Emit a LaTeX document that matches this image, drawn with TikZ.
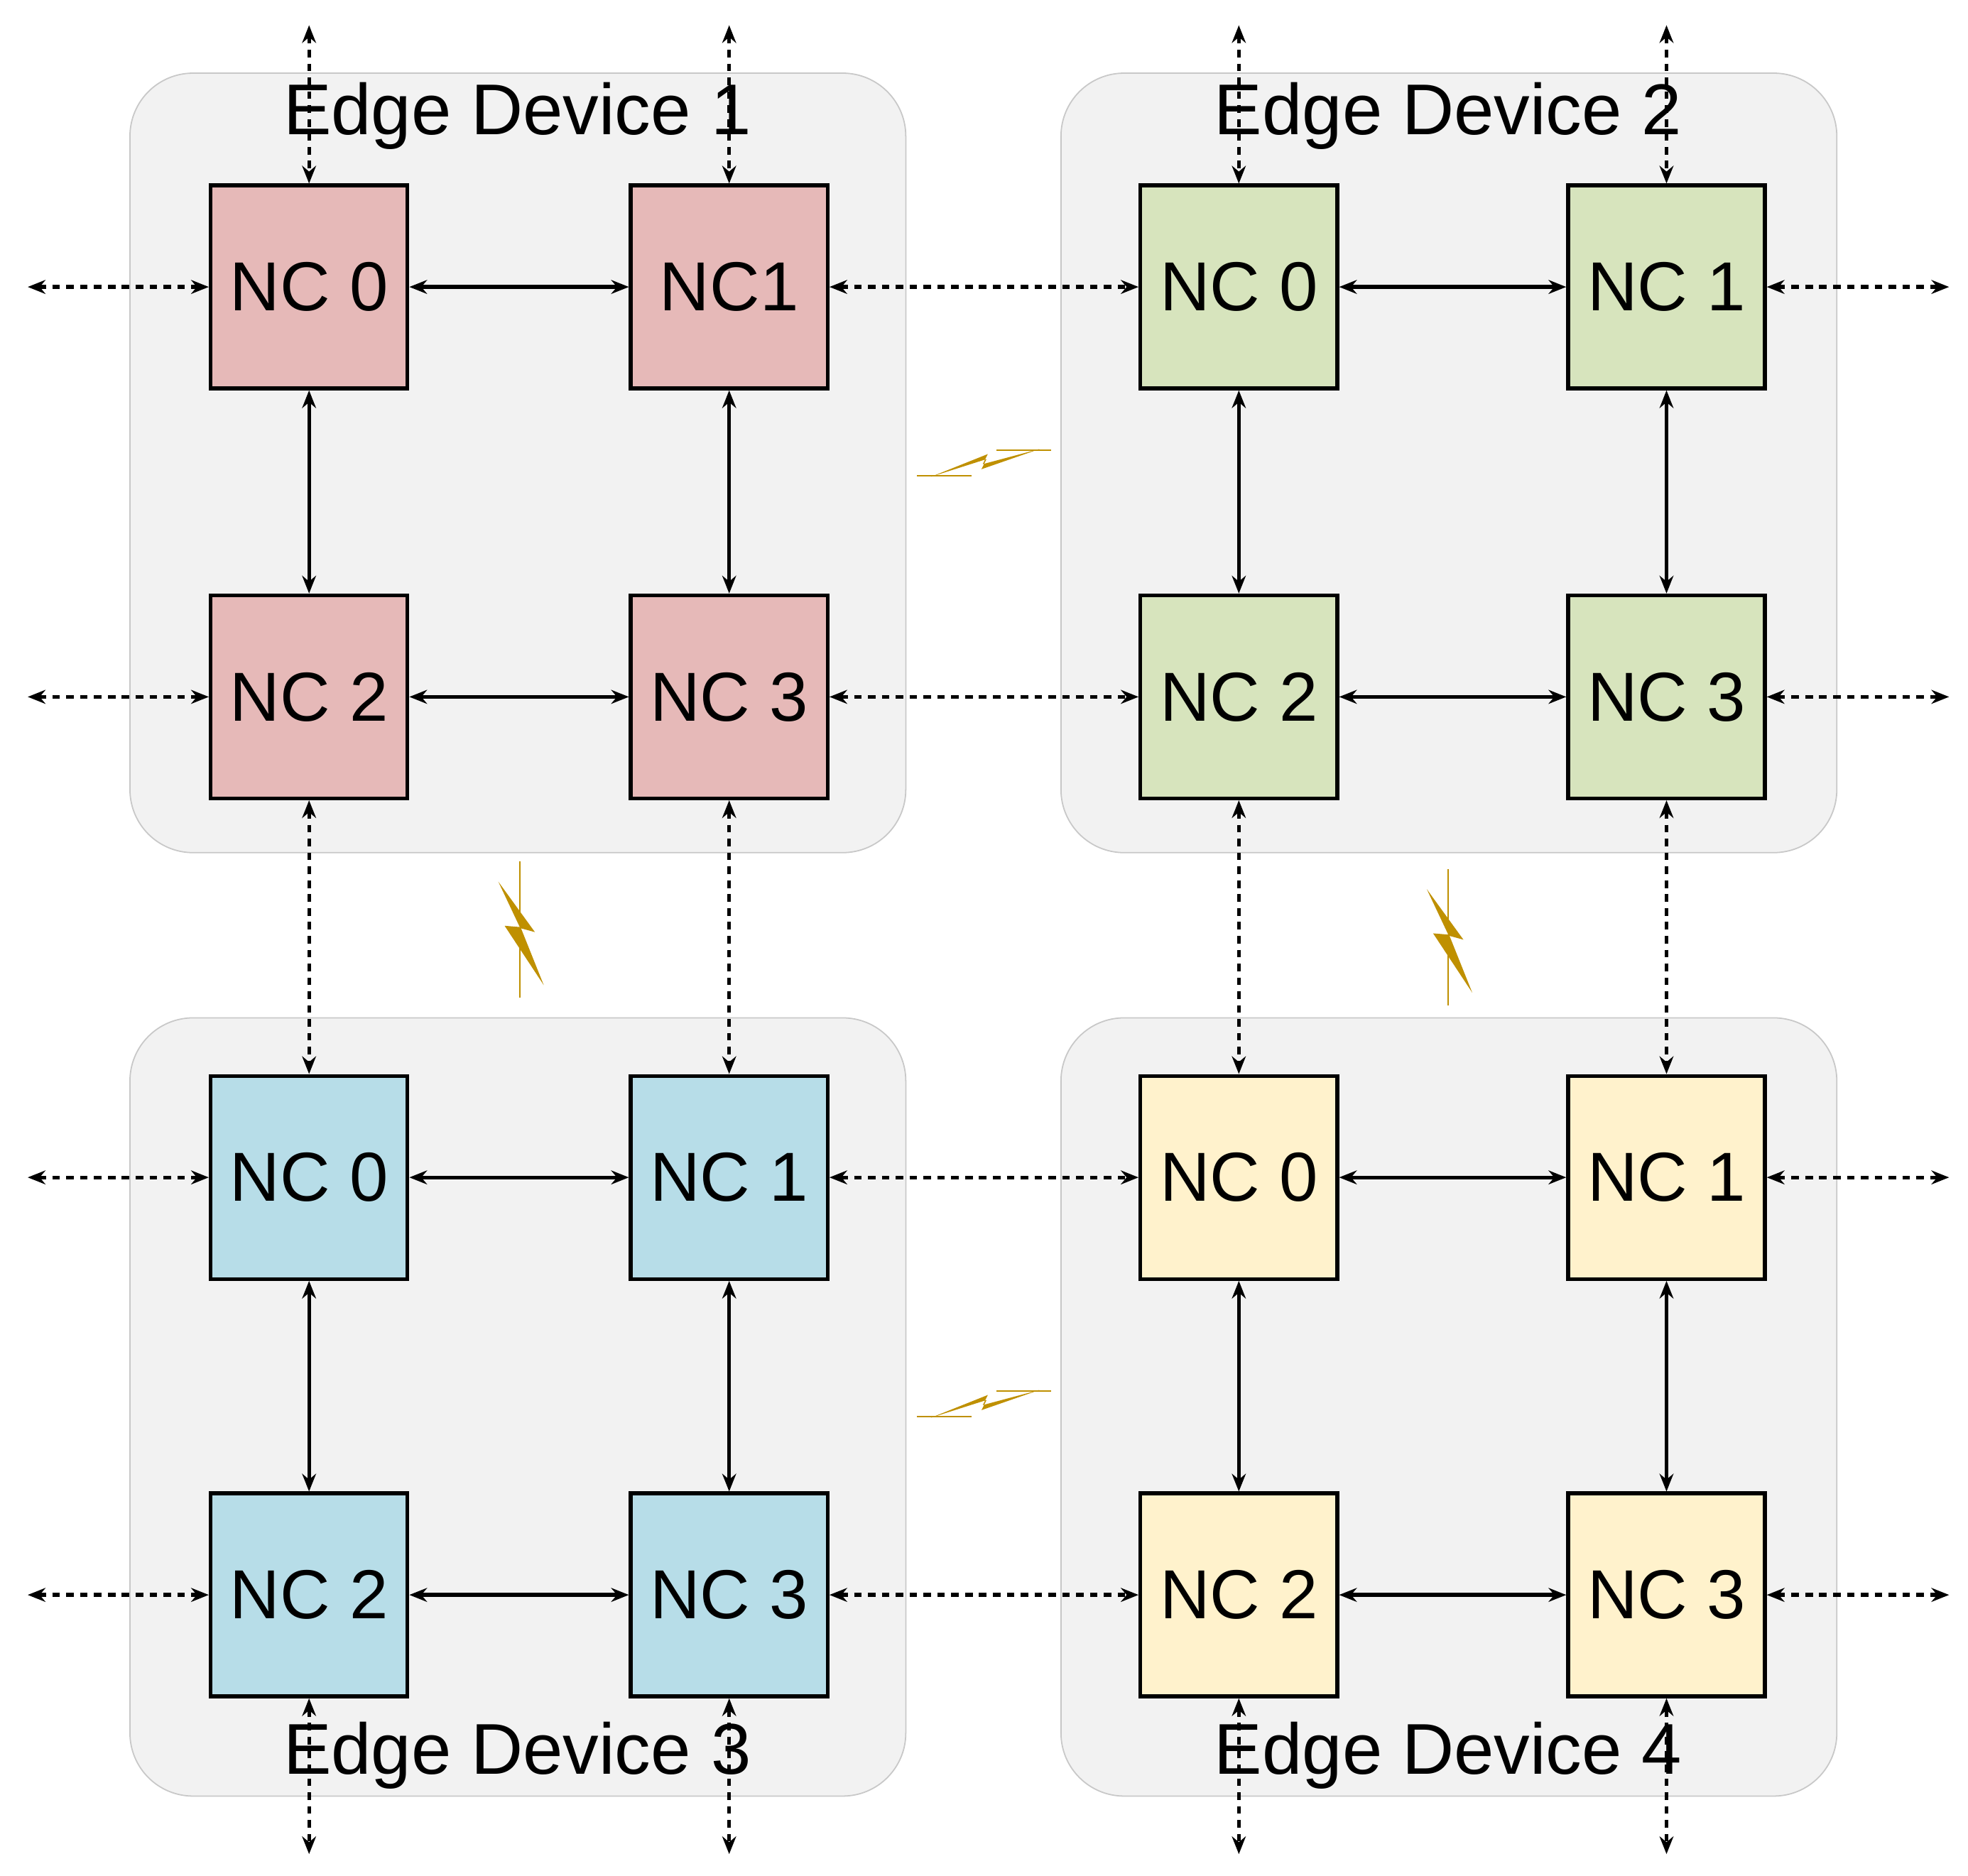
\documentclass[tikz,border=0pt]{standalone}
\usepackage{fontspec}
\setmainfont{Liberation Sans}
\usetikzlibrary{arrows.meta}
\definecolor{devfill}{HTML}{F2F2F2}
\definecolor{devline}{HTML}{C8C8C8}
\definecolor{cred}{HTML}{E6B9B8}
\definecolor{cgreen}{HTML}{D7E4BD}
\definecolor{cblue}{HTML}{B7DDE8}
\definecolor{cyellow}{HTML}{FFF2CC}
\definecolor{bolt}{HTML}{BF9000}
\begin{document}
\begin{tikzpicture}[x=1pt,y=-1pt,
  dev/.style={draw=devline,fill=devfill,line width=1pt,rounded corners=50pt},
  nc/.style={draw=black,line width=3pt,minimum width=156pt,minimum height=161pt,inner sep=0pt,font=\fontsize{55}{58}\selectfont},
  title/.style={font=\fontsize{57}{60}\selectfont,inner sep=0pt},
  solid arr/.style={line width=3pt,{Stealth[length=14pt,width=11pt]}-{Stealth[length=14pt,width=11pt]}},
  dot arr/.style={line width=3pt,dash pattern=on 6pt off 5pt,{Stealth[length=14pt,width=11pt]}-{Stealth[length=14pt,width=11pt]}},
  thin/.style={draw=bolt,line width=1pt}]
\useasboundingbox (0,0) rectangle (1560,1487);
% devices
\draw[dev] (103,58) rectangle (718,676);
\draw[dev] (841,58) rectangle (1456,676);
\draw[dev] (103,807) rectangle (718,1424);
\draw[dev] (841,807) rectangle (1456,1424);
\node[title] (t1) at (410,92) {Edge Device 1};
\node[title] (t2) at (1148,92) {Edge Device 2};
\node[title] (t3) at (410,1392) {Edge Device 3};
\node[title] (t4) at (1148,1392) {Edge Device 4};
% NC nodes
\foreach \d/\xa/\xb/\ya/\yb/\c in {1/245/578/227.5/552.5/cred,2/982/1321/227.5/552.5/cgreen,3/245/578/933.5/1264.5/cblue,4/982/1321/933.5/1264.5/cyellow}{
  \node[nc,fill=\c] (d\d n0) at (\xa,\ya) {NC 0};
  \node[nc,fill=\c] (d\d n1) at (\xb,\ya) {\ifnum\d=1 NC1\else NC 1\fi};
  \node[nc,fill=\c] (d\d n2) at (\xa,\yb) {NC 2};
  \node[nc,fill=\c] (d\d n3) at (\xb,\yb) {NC 3};
  \draw[solid arr] (d\d n0) -- (d\d n1);
  \draw[solid arr] (d\d n2) -- (d\d n3);
  \draw[solid arr] (d\d n0) -- (d\d n2);
  \draw[solid arr] (d\d n1) -- (d\d n3);
}
% inter-device dotted
\draw[dot arr] (d1n1) -- (d2n0);
\draw[dot arr] (d1n3) -- (d2n2);
\draw[dot arr] (d3n1) -- (d4n0);
\draw[dot arr] (d3n3) -- (d4n2);
\draw[dot arr] (d1n2) -- (d3n0);
\draw[dot arr] (d1n3) -- (d3n1);
\draw[dot arr] (d2n2) -- (d4n0);
\draw[dot arr] (d2n3) -- (d4n1);
% external
\foreach \y/\l/\r [count=\i] in {227.5/d1n0/d2n1,552.5/d1n2/d2n3,933.5/d3n0/d4n1,1264.5/d3n2/d4n3}{
  \coordinate (L\i) at (22,\y);
  \coordinate (R\i) at (1545,\y);
  \draw[dot arr] (L\i) -- (\l);
  \draw[dot arr] (\r) -- (R\i);
}
\foreach \x/\t/\b [count=\i] in {245/d1n0/d3n2,578/d1n1/d3n3,982/d2n0/d4n2,1321/d2n1/d4n3}{
  \coordinate (T\i) at (\x,20);
  \coordinate (B\i) at (\x,1470);
  \draw[dot arr] (T\i) -- (\t);
  \draw[dot arr] (\b) -- (B\i);
}
% lightning horizontal
\foreach \cx/\cy in {780/367,780/1113}{
  \begin{scope}[shift={(\cx,\cy)}]
  \draw[thin] (-53,10) -- (-10,10);
  \draw[thin] (10,-10) -- (53,-10);
  \fill[bolt] (-42,11) -- (2,-3) -- (-2,5) -- (44,-11) -- (-1,1) -- (3,-7) -- cycle;
  \end{scope}
}
% lightning vertical
\foreach \cx/\cy in {412/737,1148/743}{
  \begin{scope}[shift={(\cx,\cy)}]
  \draw[thin] (0,-54) -- (0,-12);
  \draw[thin] (0,12) -- (0,54);
  \fill[bolt] (-17,-38) -- (12,2) -- (1,-1) -- (19,44) -- (-12,-3) -- (0,-2) -- cycle;
  \end{scope}
}
\end{tikzpicture}
\end{document}
